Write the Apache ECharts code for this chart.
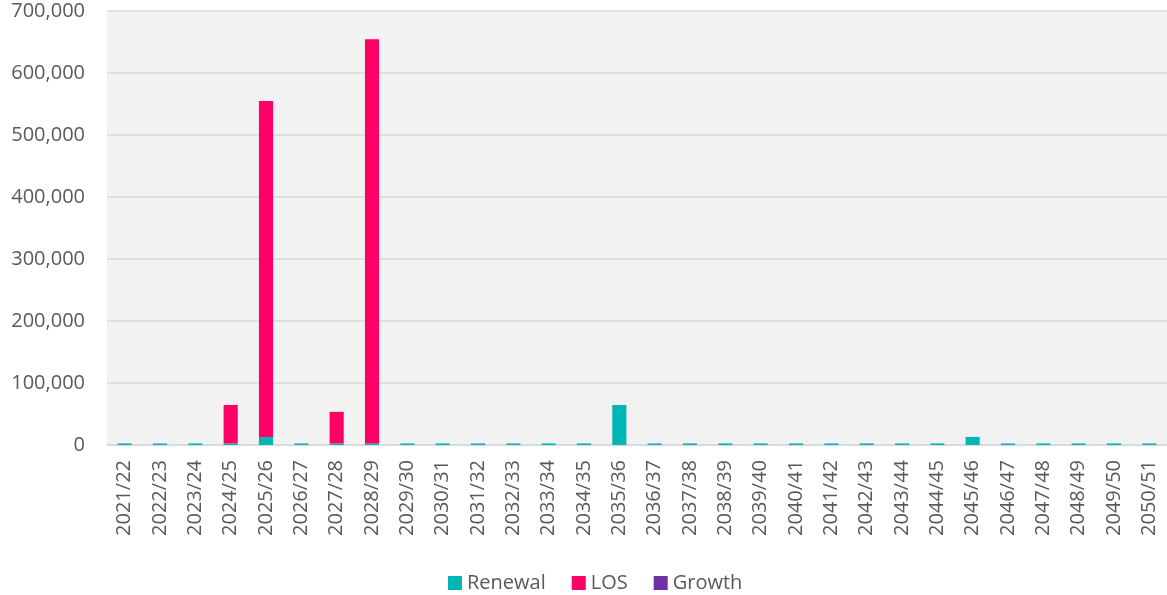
<!DOCTYPE html>
<html><head><meta charset="utf-8">
<script src="https://cdn.jsdelivr.net/npm/echarts@6/dist/echarts.min.js"></script>
<style>html,body{margin:0;padding:0;background:#fff}#c{width:1167px;height:595px}</style>
</head><body><div id="c"></div>
<script>
const categories = ["2021/22","2022/23","2023/24","2024/25","2025/26","2026/27","2027/28","2028/29","2029/30","2030/31","2031/32","2032/33","2033/34","2034/35","2035/36","2036/37","2037/38","2038/39","2039/40","2040/41","2041/42","2042/43","2043/44","2044/45","2045/46","2046/47","2047/48","2048/49","2049/50","2050/51"];
const renewal = [2500,2500,2500,2500,13000,2500,2500,2500,2500,2500,2500,2500,2500,2500,64500,2500,2500,2500,2500,2500,2500,2500,2500,2500,13000,2500,2500,2500,2500,2500];
const los = [0,0,0,62000,542000,0,51000,652000,0,0,0,0,0,0,0,0,0,0,0,0,0,0,0,0,0,0,0,0,0,0];
const growth = [0,0,0,0,0,0,0,0,0,0,0,0,0,0,0,0,0,0,0,0,0,0,0,0,0,0,0,0,0,0];
const yTicks = [0,100000,200000,300000,400000,500000,600000,700000];

const font = "'Open Sans', 'Noto Sans', sans-serif";
const chart = echarts.init(document.getElementById('c'), null, {renderer:'canvas'});
chart.setOption({
  animation:false,
  textStyle:{fontFamily:font},
  grid:{left:107, right:0, top:11, bottom:150, show:true, backgroundColor:'#f2f2f2', borderWidth:0, containLabel:false},
  legend:{top:568, left:443, itemWidth:14, itemHeight:14, itemGap:26, icon:'rect',
    textStyle:{fontSize:20, color:'#595959', fontFamily:font},
    data:['Renewal','LOS','Growth']},
  xAxis:{type:'category', data:categories,
    axisLine:{show:true, lineStyle:{color:'#d9d9d9', width:1.5}},
    axisTick:{show:false},
    axisLabel:{rotate:90, fontSize:20, color:'#595959', margin:15, interval:0, fontFamily:font}},
  yAxis:{type:'value', min:0, max:700000, interval:100000,
    axisLine:{show:false}, axisTick:{show:false},
    splitLine:{lineStyle:{color:'#d9d9d9', width:1.5}},
    axisLabel:{fontSize:20, color:'#595959', margin:22, fontFamily:font,
      formatter:v=>yTicks.includes(v)?v.toLocaleString('en-US'):''}},
  series:[
    {name:'Renewal', type:'bar', stack:'a', data:renewal, barWidth:'40%', itemStyle:{color:'#00b5b5'}},
    {name:'LOS', type:'bar', stack:'a', data:los, itemStyle:{color:'#ff0066'}},
    {name:'Growth', type:'bar', stack:'a', data:growth, itemStyle:{color:'#7030a0'}}
  ]
});
</script></body></html>
